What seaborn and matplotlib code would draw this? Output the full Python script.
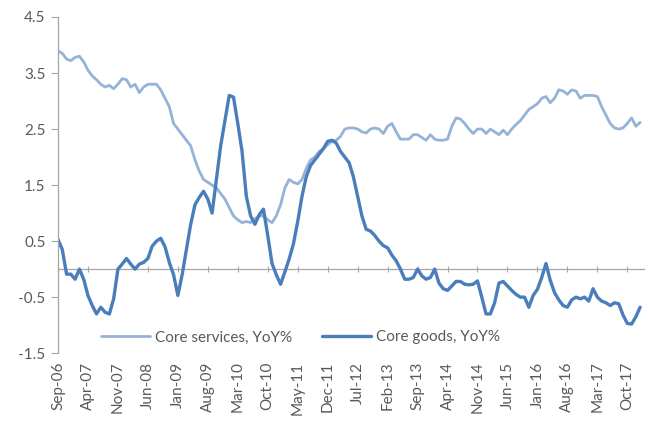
import numpy as np
import pandas as pd
import matplotlib
matplotlib.use('Agg')
import matplotlib.pyplot as plt
import seaborn as sns

# monthly data, Sep-06 .. Jan-18
months = pd.date_range('2006-09-01', periods=137, freq='MS')

core_services = [
    3.90, 3.85, 3.75, 3.72, 3.78, 3.80, 3.70, 3.55, 3.45, 3.38,
    3.30, 3.25, 3.28, 3.22, 3.30, 3.40, 3.38, 3.25, 3.30, 3.15,
    3.25, 3.30, 3.30, 3.30, 3.20, 3.05, 2.90, 2.60, 2.50, 2.40,
    2.30, 2.20, 1.95, 1.75, 1.60, 1.55, 1.50, 1.45, 1.35, 1.25,
    1.10, 0.95, 0.88, 0.83, 0.85, 0.83, 0.90, 0.95, 0.95, 0.88,
    0.83, 0.95, 1.15, 1.45, 1.60, 1.55, 1.52, 1.60, 1.80, 1.95,
    2.00, 2.10, 2.15, 2.22, 2.28, 2.30, 2.37, 2.50, 2.52, 2.52,
    2.50, 2.45, 2.43, 2.50, 2.52, 2.50, 2.42, 2.55, 2.60, 2.45,
    2.32, 2.32, 2.32, 2.40, 2.40, 2.35, 2.30, 2.40, 2.32, 2.30,
    2.30, 2.32, 2.55, 2.70, 2.68, 2.60, 2.50, 2.42, 2.50, 2.50,
    2.42, 2.50, 2.45, 2.40, 2.48, 2.40, 2.50, 2.58, 2.65, 2.75,
    2.85, 2.90, 2.95, 3.05, 3.08, 2.97, 3.05, 3.20, 3.18, 3.12,
    3.20, 3.18, 3.05, 3.10, 3.10, 3.10, 3.08, 2.90, 2.75, 2.60,
    2.52, 2.50, 2.52, 2.60, 2.70, 2.55, 2.62,
]

core_goods = [
    0.53, 0.35, -0.09, -0.09, -0.18, 0.00, -0.18, -0.47, -0.65, -0.80,
    -0.68, -0.77, -0.80, -0.53, 0.00, 0.09, 0.19, 0.09, 0.00, 0.09,
    0.12, 0.19, 0.41, 0.50, 0.55, 0.40, 0.12, -0.10, -0.47, -0.10,
    0.35, 0.80, 1.15, 1.28, 1.39, 1.25, 1.00, 1.60, 2.20, 2.65,
    3.10, 3.07, 2.60, 2.10, 1.30, 0.95, 0.80, 0.97, 1.07, 0.60,
    0.10, -0.10, -0.27, -0.05, 0.18, 0.45, 0.85, 1.30, 1.65, 1.85,
    1.95, 2.05, 2.15, 2.28, 2.30, 2.25, 2.10, 2.00, 1.90, 1.65,
    1.30, 0.95, 0.71, 0.68, 0.60, 0.50, 0.42, 0.38, 0.25, 0.15,
    0.00, -0.18, -0.18, -0.15, 0.00, -0.12, -0.18, -0.15, 0.00, -0.25,
    -0.35, -0.38, -0.30, -0.22, -0.22, -0.27, -0.28, -0.27, -0.21, -0.50,
    -0.80, -0.80, -0.60, -0.25, -0.22, -0.30, -0.38, -0.45, -0.50, -0.50,
    -0.68, -0.47, -0.36, -0.15, 0.10, -0.20, -0.42, -0.55, -0.65, -0.68,
    -0.55, -0.50, -0.53, -0.50, -0.57, -0.35, -0.50, -0.57, -0.60, -0.65,
    -0.60, -0.62, -0.82, -0.97, -0.98, -0.85, -0.68,
]

tick_labels = ['Sep-06', 'Apr-07', 'Nov-07', 'Jun-08', 'Jan-09', 'Aug-09',
               'Mar-10', 'Oct-10', 'May-11', 'Dec-11', 'Jul-12', 'Feb-13',
               'Sep-13', 'Apr-14', 'Nov-14', 'Jun-15', 'Jan-16', 'Aug-16',
               'Mar-17', 'Oct-17']
y_ticks = [4.5, 3.5, 2.5, 1.5, 0.5, -0.5, -1.5]

df = pd.DataFrame({'month': np.arange(len(months)),
                   'Core services, YoY%': core_services,
                   'Core goods, YoY%': core_goods})

sns.set_style('white')
plt.rcParams['font.family'] = ['Lato', 'DejaVu Sans']

fig = plt.figure(figsize=(6.48, 4.25), dpi=100)
ax = fig.add_axes([0.0895, 0.169, 0.905, 0.791])

grey = '#595959'
sns.lineplot(data=df, x='month', y='Core services, YoY%', ax=ax,
             color='#95B3D7', linewidth=2.0, label='Core services, YoY%')
sns.lineplot(data=df, x='month', y='Core goods, YoY%', ax=ax,
             color='#4A7EBB', linewidth=2.4, label='Core goods, YoY%')

ax.set_xlim(0, 137)
ax.set_ylim(-1.5, 4.5)
ax.set_yticks(y_ticks)
ax.set_yticklabels([f'{v:.1f}' for v in y_ticks])
tick_pos = [months.get_loc(pd.Timestamp(pd.to_datetime(t, format='%b-%y'))) for t in tick_labels]
ax.set_xticks(tick_pos)
ax.set_xticklabels(tick_labels, rotation=90)
ax.set_xlabel('')
ax.set_ylabel('')
ax.tick_params(axis='x', length=0, labelsize=11, labelcolor=grey, pad=6)
ax.tick_params(axis='y', left=True, length=5, width=0.8, color='#A6A6A6',
               labelsize=11, labelcolor=grey, pad=4)

for side in ['top', 'right', 'bottom']:
    ax.spines[side].set_visible(False)
ax.spines['left'].set_color('#A6A6A6')
ax.spines['left'].set_linewidth(0.9)

# horizontal axis line crossing at zero, with tick marks
sec = ax.secondary_xaxis(0.25)
sec.set_xticks(tick_pos)
sec.tick_params(axis='x', labelbottom=False, length=4, width=0.8,
                color='#A6A6A6', direction='inout')
sec.spines['bottom'].set_color('#A6A6A6')
sec.spines['bottom'].set_linewidth(0.9)
for side in ['top', 'left', 'right']:
    sec.spines[side].set_visible(False)

leg = ax.legend(loc='lower left', bbox_to_anchor=(0.05, -0.015), ncol=2,
                frameon=False, fontsize=11, handlelength=3.2,
                columnspacing=2.0, handletextpad=0.3)
for t in leg.get_texts():
    t.set_color(grey)

fig.savefig('out.png', dpi=100)
